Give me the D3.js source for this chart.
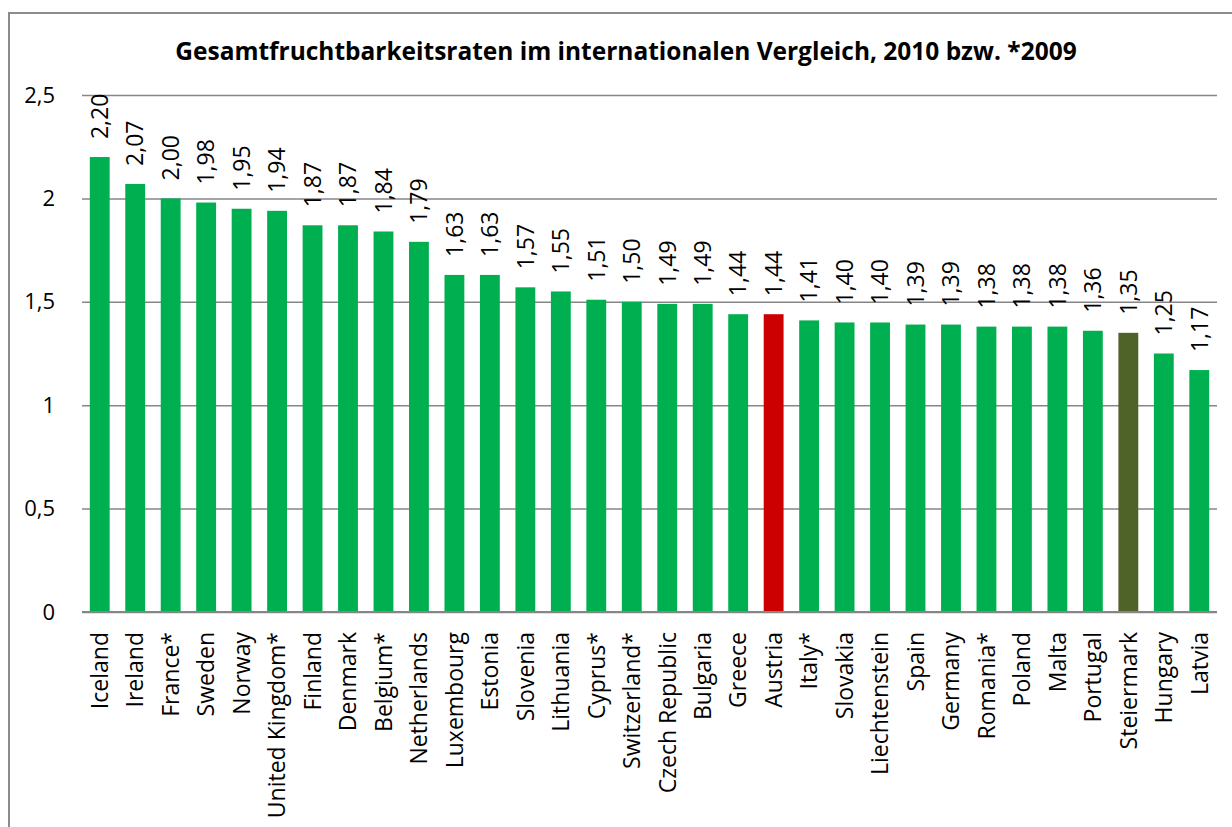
<!DOCTYPE html>
<html>
<head>
<meta charset="utf-8">
<script src="https://cdn.jsdelivr.net/npm/d3@7"></script>
<style>
  body { margin: 0; background: #ffffff; }
  text { font-family: "Open Sans", "DejaVu Sans", sans-serif; fill: #000; }
</style>
</head>
<body>
<div id="vis"></div>
<script>
const FRAME_WIDTH = 1232;
const FRAME_HEIGHT = 827;
const MARGINS = {left: 82, right: 15, top: 95, bottom: 215};

// data
const COUNTRIES = ["Iceland", "Ireland", "France*", "Sweden", "Norway", "United Kingdom*",
  "Finland", "Denmark", "Belgium*", "Netherlands", "Luxembourg", "Estonia", "Slovenia",
  "Lithuania", "Cyprus*", "Switzerland*", "Czech Republic", "Bulgaria", "Greece", "Austria",
  "Italy*", "Slovakia", "Liechtenstein", "Spain", "Germany", "Romania*", "Poland", "Malta",
  "Portugal", "Steiermark", "Hungary", "Latvia"];
const RATES = [2.20, 2.07, 2.00, 1.98, 1.95, 1.94, 1.87, 1.87, 1.84, 1.79, 1.63, 1.63, 1.57,
  1.55, 1.51, 1.50, 1.49, 1.49, 1.44, 1.44, 1.41, 1.40, 1.40, 1.39, 1.39, 1.38, 1.38, 1.38,
  1.36, 1.35, 1.25, 1.17];
const Y_TICKS = [0, 0.5, 1, 1.5, 2, 2.5];
const TITLE = "Gesamtfruchtbarkeitsraten im internationalen Vergleich, 2010 bzw. *2009";

const data = COUNTRIES.map((c, i) => ({country: c, rate: RATES[i]}));

const VIS_WIDTH = FRAME_WIDTH - MARGINS.left - MARGINS.right;
const VIS_HEIGHT = FRAME_HEIGHT - MARGINS.top - MARGINS.bottom;

const X_SCALE = d3.scaleBand()
                  .domain(COUNTRIES)
                  .range([MARGINS.left, MARGINS.left + VIS_WIDTH])
                  .paddingInner(0.44)
                  .paddingOuter(0.22);

const Y_SCALE = d3.scaleLinear()
                  .domain([0, 2.5])
                  .range([MARGINS.top + VIS_HEIGHT, MARGINS.top]);

const fmt = (v, digits) => v.toFixed(digits).replace(".", ",");

function barColor(d) {
  if (d.country === "Austria") return "#cc0000";
  if (d.country === "Steiermark") return "#4f6228";
  return "#00b050";
}

const SVG = d3.select("#vis")
              .append("svg")
                .attr("width", FRAME_WIDTH)
                .attr("height", FRAME_HEIGHT);

// outer chart border (cut off at right and bottom like the picture)
SVG.append("rect")
    .attr("x", 9)
    .attr("y", 13)
    .attr("width", FRAME_WIDTH + 20)
    .attr("height", FRAME_HEIGHT + 20)
    .attr("fill", "none")
    .attr("stroke", "#8c8c8c")
    .attr("stroke-width", 2);

// title, fitted to the width in the picture
const title = SVG.append("text")
    .attr("x", 626)
    .attr("y", 60)
    .attr("text-anchor", "middle")
    .attr("font-weight", "bold")
    .attr("font-size", 22)
    .text(TITLE);
const tw = title.node().getComputedTextLength();
title.attr("font-size", 22 * 902 / tw);

// y axis with gridlines
const yAxis = SVG.append("g")
    .attr("transform", "translate(" + MARGINS.left + ",0)")
    .call(d3.axisLeft(Y_SCALE)
            .tickValues(Y_TICKS)
            .tickSize(-VIS_WIDTH)
            .tickPadding(27)
            .tickFormat((d) => d % 1 === 0 ? String(d) : fmt(d, 1)));
yAxis.select(".domain").remove();
yAxis.selectAll("line").attr("stroke", "#868686").attr("stroke-width", 1.5);
yAxis.selectAll("text")
    .attr("font-size", 22)
    .attr("font-family", "'Open Sans', sans-serif")
    .attr("fill", "#000");

// bars
SVG.selectAll(".bar")
    .data(data)
    .enter()
    .append("rect")
      .attr("class", "bar")
      .attr("x", (d) => X_SCALE(d.country))
      .attr("y", (d) => Y_SCALE(d.rate))
      .attr("width", X_SCALE.bandwidth())
      .attr("height", (d) => Y_SCALE(0) - Y_SCALE(d.rate))
      .attr("fill", barColor);

// zero line on top of bars
SVG.append("line")
    .attr("x1", MARGINS.left)
    .attr("x2", MARGINS.left + VIS_WIDTH)
    .attr("y1", Y_SCALE(0))
    .attr("y2", Y_SCALE(0))
    .attr("stroke", "#868686")
    .attr("stroke-width", 2);

// value labels, rotated
SVG.selectAll(".val")
    .data(data)
    .enter()
    .append("text")
      .attr("class", "val")
      .attr("transform", (d) => "translate(" + (X_SCALE(d.country) + X_SCALE.bandwidth() / 2) +
            "," + (Y_SCALE(d.rate) - 18) + ") rotate(-90)")
      .attr("dy", "0.36em")
      .attr("font-size", 23)
      .text((d) => fmt(d.rate, 2));

// category labels, rotated
SVG.selectAll(".cat")
    .data(data)
    .enter()
    .append("text")
      .attr("class", "cat")
      .attr("transform", (d) => "translate(" + (X_SCALE(d.country) + X_SCALE.bandwidth() / 2) +
            "," + (Y_SCALE(0) + 20) + ") rotate(-90)")
      .attr("dy", "0.36em")
      .attr("text-anchor", "end")
      .attr("font-size", 23)
      .text((d) => d.country);
</script>
</body>
</html>
